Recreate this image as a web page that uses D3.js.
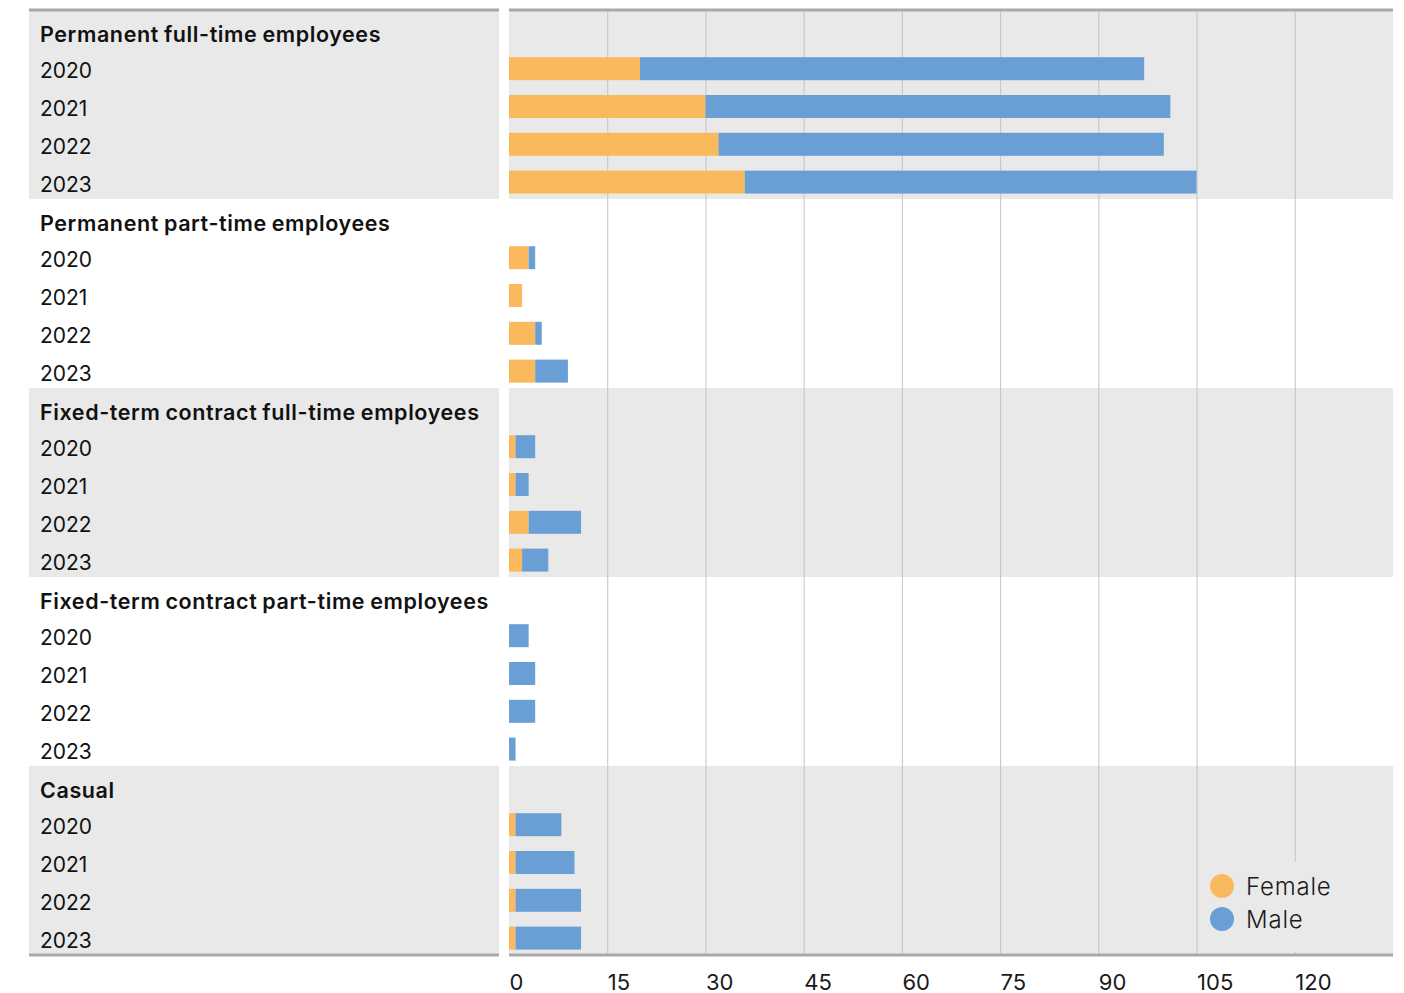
<!DOCTYPE html>
<html>
<head>
<meta charset="utf-8">
<script src="https://cdn.jsdelivr.net/npm/d3@7"></script>
<style>
  html, body { margin: 0; padding: 0; background: #fff; }
  svg { display: block; font-family: "Inter", "Noto Sans", sans-serif; }
</style>
</head>
<body>
<svg id="chart" width="1404" height="993"></svg>
<script>
// Employment categories and the years reported for each
const categories = [
  "Permanent full-time employees",
  "Permanent part-time employees",
  "Fixed-term contract full-time employees",
  "Fixed-term contract part-time employees",
  "Casual"
];
const years = ["2020", "2021", "2022", "2023"];

// Head count by gender: one row per category, one value per year
const female = [
  [20, 30, 32, 36],
  [3, 2, 4, 4],
  [1, 1, 3, 2],
  [0, 0, 0, 0],
  [1, 1, 1, 1]
];
const male = [
  [77, 71, 68, 69],
  [1, 0, 1, 5],
  [3, 2, 8, 4],
  [3, 4, 4, 1],
  [7, 9, 10, 10]
];

const tickValues = [0, 15, 30, 45, 60, 75, 90, 105, 120];
const seriesNames = ["Female", "Male"];
const colors = { Female: "#f9b95c", Male: "#6a9fd6" };

const svg = d3.select("#chart");

const plotTop = 10, plotBottom = 955;
const labelLeft = 29, labelRight = 499;
const plotLeft = 509, plotRight = 1393;

// One row for each category heading plus one row per year
const rows = [];
categories.forEach((c, gi) => {
  rows.push({ key: "h" + gi, group: gi, type: "header", label: c });
  years.forEach((yr, yi) => {
    rows.push({ key: gi + "-" + yr, group: gi, type: "year", label: yr,
                female: female[gi][yi], male: male[gi][yi] });
  });
});

const y = d3.scaleBand().domain(rows.map(r => r.key)).range([plotTop, plotBottom]).padding(0);
const x = d3.scaleLinear().domain([0, 135]).range([plotLeft, plotRight]);
const rowsPerGroup = years.length + 1;

// Alternating grey bands behind each category
categories.forEach((c, gi) => {
  if (gi % 2 !== 0) return;
  const y0 = y("h" + gi);
  const h = y.bandwidth() * rowsPerGroup;
  svg.append("rect").attr("x", labelLeft).attr("y", y0)
    .attr("width", labelRight - labelLeft).attr("height", h).attr("fill", "#e9e9e9");
  svg.append("rect").attr("x", plotLeft).attr("y", y0)
    .attr("width", plotRight - plotLeft).attr("height", h).attr("fill", "#e9e9e9");
});

// Vertical gridlines
const grid = svg.append("g")
  .attr("transform", `translate(0,${plotBottom})`)
  .call(d3.axisBottom(x).tickValues(tickValues).tickSize(-(plotBottom - plotTop)).tickFormat(""));
grid.select(".domain").remove();
grid.selectAll(".tick line").attr("stroke", "#c4c4c4").attr("stroke-width", 1);
grid.selectAll(".tick").filter(d => d === 0).remove();

// Stacked bars: female first, male continues from its end
const yearRows = rows.filter(r => r.type === "year");
const barH = 23;
const barY = r => y(r.key) + y.bandwidth() / 2 - barH / 2 + 2;

svg.append("g").selectAll("rect").data(yearRows.filter(r => r.female > 0)).join("rect")
  .attr("x", x(0)).attr("y", barY)
  .attr("width", r => x(r.female) - x(0)).attr("height", barH)
  .attr("fill", colors.Female);
svg.append("g").selectAll("rect").data(yearRows.filter(r => r.male > 0)).join("rect")
  .attr("x", r => x(r.female)).attr("y", barY)
  .attr("width", r => x(r.female + r.male) - x(r.female)).attr("height", barH)
  .attr("fill", colors.Male);

// Row labels
svg.append("g").selectAll("text").data(rows).join("text")
  .attr("x", 40)
  .attr("y", r => y(r.key) + y.bandwidth() / 2 + (r.type === "header" ? 7 : 6))
  .attr("dominant-baseline", "middle")
  .attr("font-size", r => r.type === "header" ? 21.5 : 21)
  .attr("font-weight", r => r.type === "header" ? 600 : 400)
  .attr("letter-spacing", r => r.type === "header" ? 0.6 : 0)
  .attr("word-spacing", r => r.type === "header" ? -1 : 0)
  .attr("fill", "#111")
  .text(r => r.label);

// Top and bottom rules
[plotTop, plotBottom].forEach(yy => {
  svg.append("line").attr("x1", labelLeft).attr("x2", labelRight).attr("y1", yy).attr("y2", yy)
    .attr("stroke", "#a9a9a9").attr("stroke-width", 3);
  svg.append("line").attr("x1", plotLeft).attr("x2", plotRight).attr("y1", yy).attr("y2", yy)
    .attr("stroke", "#a9a9a9").attr("stroke-width", 3);
});

// Value axis labels
const axis = svg.append("g")
  .attr("transform", `translate(0,${plotBottom})`)
  .call(d3.axisBottom(x).tickValues(tickValues).tickSize(0).tickPadding(0));
axis.select(".domain").remove();
axis.selectAll(".tick text")
  .attr("text-anchor", "start").attr("x", 0).attr("y", 28.5).attr("dy", null)
  .attr("dominant-baseline", "middle")
  .attr("font-size", 22).attr("font-family", "Inter, 'Noto Sans', sans-serif")
  .attr("fill", "#1a1a1a");

// Legend
const legend = svg.append("g");
legend.append("rect").attr("x", 1203).attr("y", 862).attr("width", 188).attr("height", 90)
  .attr("fill", "#e9e9e9");
seriesNames.forEach((s, i) => {
  const cy = 886 + i * 33;
  legend.append("circle").attr("cx", 1222).attr("cy", cy).attr("r", 12).attr("fill", colors[s]);
  legend.append("text").attr("x", 1246).attr("y", cy + 2).attr("dominant-baseline", "middle")
    .attr("font-size", 24).attr("font-weight", 300).attr("letter-spacing", 0.8)
    .attr("fill", "#1a1a1a").text(s);
});
</script>
</body>
</html>
